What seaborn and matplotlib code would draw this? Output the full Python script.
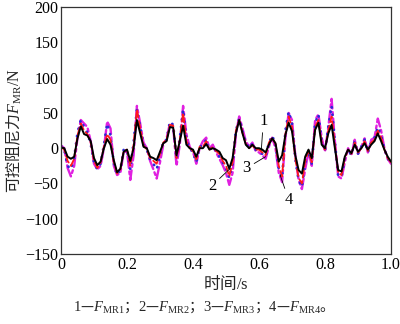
import numpy as np
import pandas as pd
import matplotlib
matplotlib.use("Agg")
import matplotlib.pyplot as plt
import seaborn as sns

# Time axis (s) and damping force of the four controllers (N)
t = np.round(np.arange(0, 101) * 0.01, 2)

f_mr1 = [1, 0, -12, -15, -12, 14, 31, 20, 18, 10,
         -14, -24, -19, 0, 13, 5, -17, -34, -29, -5,
         -2, -18, 0, 40, 21, 2, 0, -12, -14, -17,
         -5, 7, 10, 30, 29, -10, 10, 32, 5, 0,
         -2, -12, 0, 0, 6, -2, 0, -2, -5, -14,
         -17, -29, -14, 21, 40, 21, 5, 0, 5, 0,
         0, -2, -6, 5, 14, 7, -19, -10, 19, 36,
         24, -10, -31, -36, -12, -2, -14, 26, 36, 5,
         0, 21, 33, 0, -31, -33, -12, -2, -7, 5,
         -5, 0, 7, -2, 5, 10, 21, 10, -2, -12,
         -19]

f_mr2 = [2, -2, -18, -25, -15, 18, 35, 25, 20, 8,
         -18, -28, -20, 2, 20, 12, -20, -36, -30, -4,
         -2, -25, 5, 55, 28, 4, -2, -14, -18, -22,
         -8, 8, 12, 33, 32, -14, 12, 50, 10, 0,
         -4, -16, 2, 2, 10, -2, 2, -4, -8, -18,
         -25, -40, -20, 25, 40, 22, 6, 0, 4, -2,
         -2, -6, -10, 8, 15, 6, -25, -40, 20, 45,
         30, -15, -42, -50, -18, -4, -20, 30, 40, 8,
         -2, 25, 45, 5, -35, -38, -14, -2, -8, 8,
         -6, 0, 10, -4, 8, 12, 25, 15, -2, -14,
         -20]

f_mr3 = [3, -2, -25, -30, -14, 22, 40, 30, 22, 6,
         -20, -30, -22, 4, 35, 18, -22, -38, -30, -2,
         -3, -30, 8, 55, 30, 5, -2, -16, -22, -30,
         -10, 10, 12, 38, 33, -15, 14, 55, 12, 0,
         -6, -20, 2, 4, 12, -3, 3, -5, -12, -20,
         -28, -42, -22, 25, 42, 24, 8, 0, 6, -2,
         -4, -8, -12, 8, 18, 5, -30, -42, 25, 52,
         35, -15, -45, -55, -20, -5, -22, 35, 48, 10,
         -4, 30, 60, 8, -40, -40, -15, -2, -10, 10,
         -8, 2, 12, -6, 10, 15, 30, 18, -2, -15,
         -20]

f_mr4 = [4, 0, -28, -40, -25, 15, 40, 35, 30, 10,
         -22, -30, -25, 0, 38, 28, -25, -38, -35, -5,
         -5, -45, -10, 60, 35, 8, 0, -18, -30, -43,
         -20, 5, 14, 35, 30, -25, 5, 60, 20, 2,
         -5, -22, 0, 10, 15, 0, 5, -6, -15, -24,
         -35, -52, -35, 20, 45, 28, 10, 2, 8, -4,
         -6, -10, -15, 2, 15, 0, -35, -48, 15, 50,
         40, -10, -45, -58, -30, -5, -25, 40, 48, 15,
         -5, 30, 70, 10, -40, -43, -20, 0, -10, 12,
         -8, 2, 14, -6, 12, 15, 42, 25, 0, -15,
         -22]

x_ticks = [0, 0.2, 0.4, 0.6, 0.8, 1.0]
x_tick_labels = ["0", "0.2", "0.4", "0.6", "0.8", "1.0"]
y_ticks = [-150, -100, -50, 0, 50, 100, 150, 200]

sns.set_theme(style="white")
plt.rcParams["font.family"] = ["Liberation Serif", "Noto Sans CJK SC", "DejaVu Sans"]
plt.rcParams["mathtext.fontset"] = "custom"
plt.rcParams["mathtext.rm"] = "Liberation Serif"
plt.rcParams["mathtext.it"] = "Liberation Serif:italic"
plt.rcParams["mathtext.sf"] = "Liberation Serif"
plt.rcParams["axes.unicode_minus"] = True

CJK = ["Noto Sans CJK SC"]

fig = plt.figure(figsize=(4.0, 3.24), dpi=100)
ax = fig.add_axes([0.1525, 0.216, 0.825, 0.762])

# draw order: 4 at the back, 1 on top
series = [
    ("4", f_mr4, "#e020e0", (0, (5, 1.5, 1.2, 1.5)), 1.7),
    ("3", f_mr3, "#2a2ad8", (0, (0.1, 2.6)), 2.0),
    ("2", f_mr2, "#ff1a1a", (0, (4, 2)), 1.3),
    ("1", f_mr1, "black", "-", 1.4),
]
for name, vals, color, ls, lw in series:
    df = pd.DataFrame({"t": t, "F": vals})
    sns.lineplot(data=df, x="t", y="F", ax=ax, color=color, linewidth=lw,
                 linestyle=ls, dash_capstyle="round")

ax.set_xlim(0, 1.0)
ax.set_ylim(-150, 200)
ax.set_xticks(x_ticks)
ax.set_xticklabels(x_tick_labels)
ax.set_yticks(y_ticks)
ax.tick_params(direction="in", length=2.5, width=0.8, labelsize=11.5,
               colors="black", pad=2, top=False, right=False)
for sp in ax.spines.values():
    sp.set_color("#333333")
    sp.set_linewidth(0.9)

ax.set_xlabel("时间$\\mathsf{/s}$", fontsize=12, labelpad=1, family=CJK)
ax.set_ylabel("可控阻尼力$F_{\\mathsf{MR}}\\mathsf{/N}$", fontsize=11.5, labelpad=1,
              family=CJK)

# curve labels with leader lines
ann = dict(fontsize=12, color="black", ha="center", va="center",
           arrowprops=dict(arrowstyle="-", color="black", lw=0.6,
                           shrinkA=0, shrinkB=0))
ax.annotate("1", xy=(0.607, -3), xytext=(0.613, 38), **ann)
ax.annotate("2", xy=(0.512, -29), xytext=(0.458, -53), **ann)
ax.annotate("3", xy=(0.62, -12), xytext=(0.563, -28), **ann)
ax.annotate("4", xy=(0.664, -38), xytext=(0.69, -73), **ann)

fig.text(0.5, 0.052,
         "$\\mathsf{1}$—$F_{\\mathsf{MR1}}$；$\\mathsf{2}$—$F_{\\mathsf{MR2}}$；"
         "$\\mathsf{3}$—$F_{\\mathsf{MR3}}$；$\\mathsf{4}$—$F_{\\mathsf{MR4}}$。",
         ha="center", va="center", fontsize=10.5, family=CJK)

fig.savefig("out.png", dpi=100)
